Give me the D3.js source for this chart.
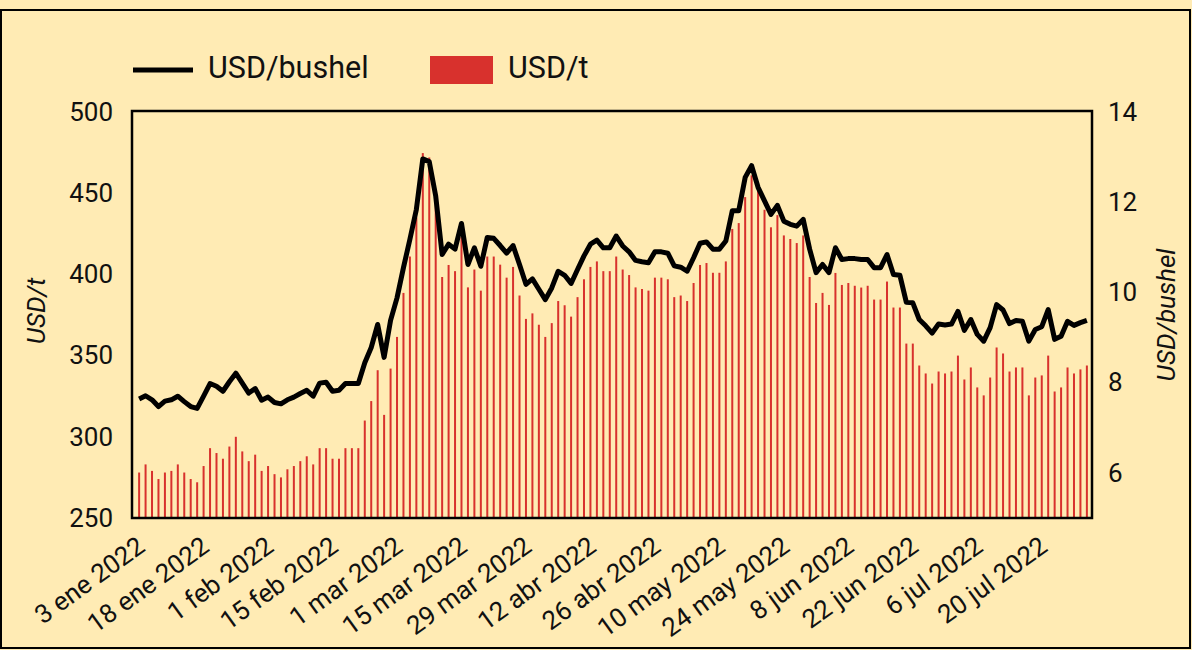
<!DOCTYPE html>
<html>
<head>
<meta charset="utf-8">
<script src="https://cdn.jsdelivr.net/npm/d3@7"></script>
<style>
  html, body { margin: 0; padding: 0; background: #FFEBB4; }
  svg { display: block; font-family: Roboto, "Open Sans", sans-serif; }
</style>
</head>
<body>
<svg id="chart" width="1192" height="650"></svg>
<script>
// ---- data ----
const tickLabels = ["3 ene 2022","18 ene 2022","1 feb 2022","15 feb 2022","1 mar 2022","15 mar 2022","29 mar 2022","12 abr 2022","26 abr 2022","10 may 2022","24 may 2022","8 jun 2022","22 jun 2022","6 jul 2022","20 jul 2022"];
const tickEvery = 10;

const usdPerTonne = [
  278,283,279,274,278,279,283,278,274,272,
  282,293,290,286.5,294,300,291,285,289,279,
  282,277,275,280,282,285,288,283,293,293,
  286.5,286.5,293,293,293,310,
  322,341,313.5,342,361.5,388.6,411,435,474.7,472,446,398.4,
  405.8,402,423,392,403,390,411,411,406,398,404.6,387,
  372.6,376,369,361.5,370,383.6,381,374,386,397,
  404.6,408,402,402,411,403,399.6,392,391,390,398,
  398,397,386,387,383.6,394.7,405.8,407,401,401,408,
  428,431.6,447.6,461,451.7,439.8,429,436.5,424,421.8,419.3,424,
  398.4,382.4,388.6,381.2,400.9,393.5,394.7,
  393,391.9,393,384.5,384.5,395.6,379.6,379.6,357.4,357.4,343.9,339,332.8,340.2,339,340.2,350,
  335.3,342.7,330.4,325.5,336.5,355,351.3,340.2,342.7,342.7,325.5,336.5,337.8,350,327.9,330.4,342.7,339,341.5,343.9
];

const usdPerBushel = [
  7.64,7.71,7.62,7.47,7.59,7.62,7.70,7.58,7.47,7.43,
  7.70,7.98,7.92,7.81,8.02,8.21,7.99,7.77,7.87,7.61,
  7.68,7.56,7.53,7.62,7.68,7.76,7.83,7.70,7.99,8.01,
  7.81,7.83,7.98,7.98,7.98,8.44,
  8.78,9.29,8.56,9.38,9.88,10.55,11.18,11.84,12.96,12.90,12.14,10.84,
  11.07,10.96,11.53,10.62,10.99,10.58,11.22,11.20,11.04,10.87,11.04,10.62,
  10.18,10.30,10.07,9.84,10.10,10.47,10.38,10.20,10.51,10.81,
  11.07,11.16,10.99,10.99,11.25,11.03,10.90,10.71,10.68,10.66,10.90,
  10.90,10.87,10.59,10.56,10.47,10.77,11.09,11.12,10.96,10.96,11.14,
  11.81,11.81,12.55,12.81,12.33,12.03,11.73,11.93,11.58,11.51,11.47,11.62,
  10.96,10.44,10.62,10.44,10.99,10.73,10.75,
  10.75,10.73,10.73,10.55,10.55,10.84,10.40,10.38,9.78,9.77,9.40,9.26,9.10,9.30,9.28,9.30,9.58,
  9.16,9.40,9.07,8.92,9.22,9.73,9.61,9.31,9.38,9.36,8.92,9.18,9.24,9.62,8.96,9.03,9.36,9.27,9.33,9.38
];

const leftTicks = [250,300,350,400,450,500];
const rightTicks = [6,8,10,12,14];

// ---- layout ----
const svg = d3.select("#chart");
const plot = {left: 132, right: 1092, top: 112, bottom: 518};
const bg = "#FFEBB4";
const red = "#D8312D";

svg.append("rect").attr("x",0).attr("y",0).attr("width",1192).attr("height",650).attr("fill",bg);
svg.append("rect").attr("x",1).attr("y",10).attr("width",1189).attr("height",638)
   .attr("fill","none").attr("stroke","#000").attr("stroke-width",2);

const idx = d3.range(usdPerTonne.length);
const x = d3.scalePoint().domain(idx).range([plot.left+1, plot.right+1]).padding(0.95);
const yL = d3.scaleLinear().domain([250,500]).range([plot.bottom, plot.top]);
const yR = d3.scaleLinear().domain([5,14]).range([plot.bottom, plot.top]);

// bars
svg.append("g").selectAll("rect").data(idx).join("rect")
  .attr("x", i => x(i) - 1)
  .attr("width", 2)
  .attr("y", i => yL(usdPerTonne[i]))
  .attr("height", i => plot.bottom - yL(usdPerTonne[i]))
  .attr("fill", red);

// line
svg.append("path")
  .datum(idx)
  .attr("fill","none")
  .attr("stroke","#000")
  .attr("stroke-width",5)
  .attr("stroke-linejoin","round")
  .attr("d", d3.line().x(i => x(i)).y(i => yR(usdPerBushel[i])));

// plot frame
svg.append("rect").attr("x",plot.left).attr("y",plot.top-1).attr("width",plot.right-plot.left).attr("height",plot.bottom-plot.top+1)
  .attr("fill","none").attr("stroke","#000").attr("stroke-width",2.5);

// axes
const axL = svg.append("g").attr("transform",`translate(${plot.left},0)`)
  .call(d3.axisLeft(yL).tickValues(leftTicks).tickSize(0).tickPadding(19));
const axR = svg.append("g").attr("transform",`translate(${plot.right},0)`)
  .call(d3.axisRight(yR).tickValues(rightTicks).tickSize(0).tickPadding(16));
[axL, axR].forEach(a => {
  a.select(".domain").remove();
  a.selectAll("text").attr("font-size",26).attr("fill","#111").attr("font-family","Roboto");
});

const axB = svg.append("g").attr("transform",`translate(0,${plot.bottom})`)
  .call(d3.axisBottom(x).tickValues(idx.filter(i => i % tickEvery === 0))
        .tickFormat(i => tickLabels[i / tickEvery]).tickSize(0).tickPadding(0));
axB.select(".domain").remove();
axB.selectAll("text")
  .attr("font-size",26).attr("fill","#111").attr("font-family","Roboto")
  .attr("text-anchor","end").attr("y",0).attr("dy","0.71em")
  .attr("transform","translate(-4,17) rotate(-36)");

// axis titles
svg.append("text").attr("transform","translate(38,311) rotate(-90)")
  .attr("text-anchor","middle").attr("dominant-baseline","middle")
  .attr("font-size",26).attr("font-style","italic").attr("fill","#111").text("USD/t");
svg.append("text").attr("transform","translate(1168,315) rotate(-90)")
  .attr("text-anchor","middle").attr("dominant-baseline","middle")
  .attr("font-size",26).attr("font-style","italic").attr("fill","#111").text("USD/bushel");

// legend
const lg = svg.append("g");
lg.append("line").attr("x1",133).attr("x2",193).attr("y1",70).attr("y2",70).attr("stroke","#000").attr("stroke-width",5);
lg.append("text").attr("x",208).attr("y",70).attr("dominant-baseline","middle").attr("font-size",30.5).attr("fill","#111").text("USD/bushel");
lg.append("rect").attr("x",430).attr("y",56).attr("width",63).attr("height",28).attr("fill",red);
lg.append("text").attr("x",508).attr("y",70).attr("dominant-baseline","middle").attr("font-size",30.5).attr("fill","#111").text("USD/t");
</script>
</body>
</html>
